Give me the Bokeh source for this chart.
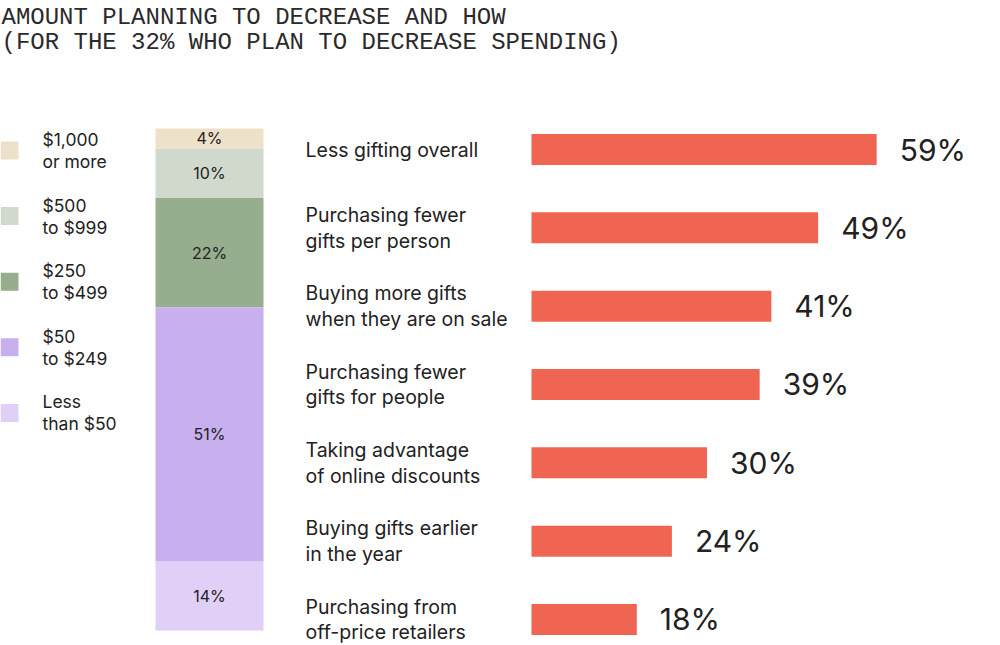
import numpy as np
from bokeh.plotting import figure
from bokeh.models import Range1d, ColumnDataSource
from bokeh.core.properties import value
from bokeh.embed import file_html
from bokeh.resources import INLINE

# ---------------- data ----------------
TITLE_LINES = [
    "AMOUNT PLANNING TO DECREASE AND HOW",
    "(FOR THE 32% WHO PLAN TO DECREASE SPENDING)",
]

amount_labels = ["$1,000\nor more", "$500\nto $999", "$250\nto $499", "$50\nto $249", "Less\nthan $50"]
amount_shares = [4, 10, 22, 51, 14]

how_labels = [
    "Less gifting overall",
    "Purchasing fewer\ngifts per person",
    "Buying more gifts\nwhen they are on sale",
    "Purchasing fewer\ngifts for people",
    "Taking advantage\nof online discounts",
    "Buying gifts earlier\nin the year",
    "Purchasing from\noff-price retailers",
]
how_shares = [59, 49, 41, 39, 30, 24, 18]

# ---------------- style / layout ----------------
amount_colors = ["#EEE1C9", "#D1D9CC", "#96AD8E", "#C8AFEE", "#E0CFF6"]
BAR_COLOR = "#F06452"
TEXT = "#222222"
FONT = value("Inter")
MONO = value("Liberation Mono")

W, H = 990, 643
OX, OY = 0, 0

# horizontal bars: zero at px 531, px per percent
HB_X0, HB_K = 531 - OX, 5.85
# rows: first row center px 149, spacing
ROW_Y0, ROW_DY = 149 - OY, 78.33
# stacked bar: center px, width px, baseline px, px per percent
ST_XC, ST_W, ST_Y0, ST_K = 209 - OX, 108, 630 - OY, 4.97
# legend
LEG_Y0, LEG_DY = 150 - OY, 65.6

p = figure(width=W, height=H, output_backend="svg", toolbar_location=None,
           x_range=Range1d(OX, W + OX), y_range=Range1d(H + OY, OY),
           min_border=0, min_border_left=0, min_border_right=0,
           min_border_top=0, min_border_bottom=0)
p.axis.visible = False
p.grid.visible = False
p.outline_line_color = None
p.background_fill_color = "white"
p.border_fill_color = "white"

p.extra_x_ranges = {
    "pct": Range1d(-HB_X0 / HB_K, (W - HB_X0) / HB_K),
    "stx": Range1d(-ST_XC / ST_W, (W - ST_XC) / ST_W),
}
p.extra_y_ranges = {
    "rows": Range1d((H - ROW_Y0) / ROW_DY, -ROW_Y0 / ROW_DY),
    "sty": Range1d((ST_Y0 - H) / ST_K, ST_Y0 / ST_K),
    "leg": Range1d((H - LEG_Y0) / LEG_DY, -LEG_Y0 / LEG_DY),
}

# ---------------- title ----------------
p.text(x=[1, 1], y=[16.5, 42], text=TITLE_LINES, text_font=MONO,
       text_font_size="24px", text_color="#2a2a2a", text_baseline="alphabetic")

# ---------------- stacked bar ----------------
shares = np.array(amount_shares, dtype=float)
total = shares.sum()
tops = total - np.concatenate([[0], np.cumsum(shares)[:-1]])
bottoms = tops - shares
st_src = ColumnDataSource(dict(
    x=np.zeros(len(shares)), top=tops, bottom=bottoms, color=amount_colors,
    mid=(tops + bottoms) / 2, lab=[f"{int(v)}%" for v in amount_shares],
))
p.vbar(x="x", top="top", bottom="bottom", width=1, fill_color="color",
       line_color=None, source=st_src, x_range_name="stx", y_range_name="sty")
p.text(x="x", y="mid", text="lab", source=st_src, x_range_name="stx", y_range_name="sty",
       text_font=FONT, text_font_size="16px", text_color=TEXT,
       text_align="center", text_baseline="middle")

# ---------------- legend ----------------
leg_src = ColumnDataSource(dict(
    i=list(range(len(amount_labels))), lab=amount_labels, color=amount_colors,
    sx=[9] * len(amount_labels), tx=[42] * len(amount_labels),
))
p.rect(x="sx", y="i", width=18, height=18, width_units="data", height_units="screen",
       fill_color="color", line_color=None, source=leg_src, y_range_name="leg")
p.text(x="tx", y="i", text="lab", source=leg_src, y_range_name="leg",
       text_font=FONT, text_font_size="17.5px", text_color=TEXT,
       text_baseline="middle", text_line_height=1.05)

# ---------------- horizontal bars ----------------
hb_src = ColumnDataSource(dict(
    i=list(range(len(how_labels))), v=how_shares, lab=how_labels,
    pct=[f"{v}%" for v in how_shares], lx=[305] * len(how_labels),
))
p.hbar(y="i", left=0, right="v", height=31 / ROW_DY, fill_color=BAR_COLOR,
       line_color=None, source=hb_src, x_range_name="pct", y_range_name="rows")
p.text(x="v", y="i", text="pct", source=hb_src, x_range_name="pct", y_range_name="rows",
       x_offset=23, text_font=FONT, text_font_size="30px", text_color=TEXT,
       text_baseline="middle")
p.text(x="lx", y="i", text="lab", source=hb_src, y_range_name="rows",
       text_font=FONT, text_font_size="19.5px", text_color=TEXT,
       text_baseline="middle", text_line_height=1.08)

open("out.html", "w").write(file_html(p, INLINE))
